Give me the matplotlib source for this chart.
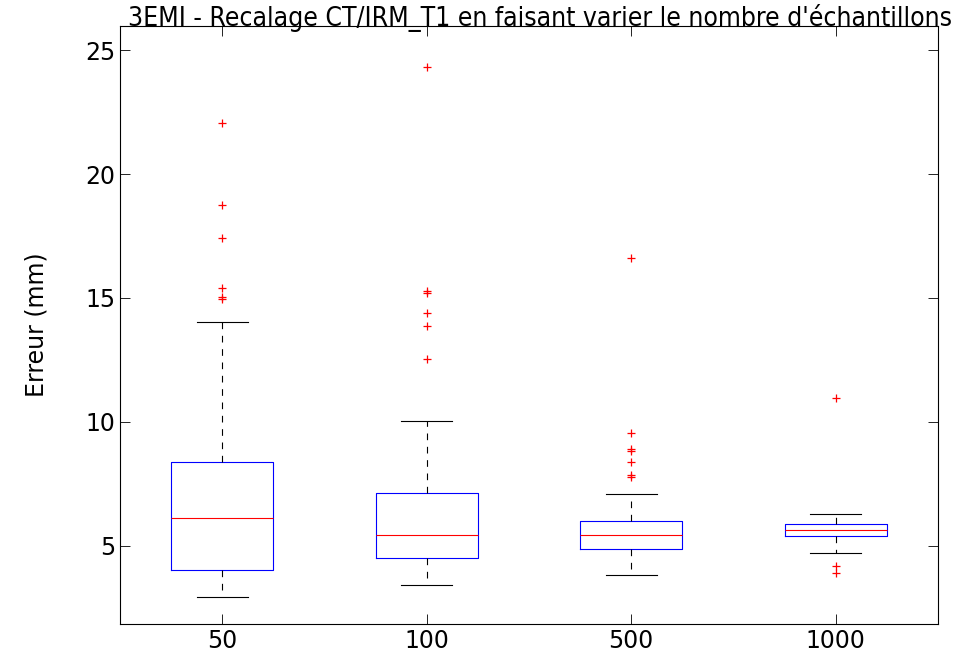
import matplotlib
matplotlib.use('Agg')
import matplotlib.pyplot as plt

# sample counts tested for registration
labels = ['50', '100', '500', '1000']

# box statistics (mm)
q1 = [4.03, 4.52, 4.88, 5.40]
med = [6.13, 5.44, 5.44, 5.64]
q3 = [8.38, 7.13, 6.00, 5.89]
whislo = [2.95, 3.43, 3.83, 4.72]
whishi = [14.02, 10.03, 7.09, 6.29]

# outliers
fliers_50 = [22.07, 18.77, 17.40, 15.39, 15.05, 14.95]
fliers_100 = [24.32, 15.27, 15.20, 14.38, 13.88, 12.55]
fliers_500 = [16.62, 9.55, 8.90, 8.82, 8.38, 7.86, 7.78]
fliers_1000 = [10.98, 4.19, 3.91]
fliers = [fliers_50, fliers_100, fliers_500, fliers_1000]

stats = []
for i in range(len(labels)):
    stats.append({'label': labels[i], 'q1': q1[i], 'med': med[i], 'q3': q3[i],
                  'whislo': whislo[i], 'whishi': whishi[i], 'fliers': fliers[i]})

fig = plt.figure(figsize=(9.56, 6.55), dpi=100)
ax = fig.add_axes([120/956, 1 - 624/655, 818/956, 598/655])

ax.bxp(stats, widths=0.5, showfliers=True,
       boxprops=dict(color='blue', linewidth=0.8),
       medianprops=dict(color='red', linewidth=0.8),
       whiskerprops=dict(color='black', linestyle=(0, (6, 6)), linewidth=0.8),
       capprops=dict(color='black', linewidth=0.8),
       flierprops=dict(marker='+', markeredgecolor='red', markersize=6,
                       markeredgewidth=0.9, linestyle='none'),
       capwidths=0.25)

ax.set_xlim(0.5, 4.5)
ax.set_ylim(1.85, 25.97)
ax.set_yticks([5, 10, 15, 20, 25])
ax.tick_params(direction='in', top=True, right=True, labelsize=17, length=7, width=0.6)
for s in ax.spines.values():
    s.set_linewidth(0.8)
ax.set_ylabel('Erreur (mm)', fontsize=17, labelpad=26)
ax.set_title("3EMI - Recalage CT/IRM_T1 en faisant varier le nombre d'échantillons",
             fontsize=19, pad=0, x=0.513, fontstretch='condensed')

fig.savefig('out.png', dpi=100)
